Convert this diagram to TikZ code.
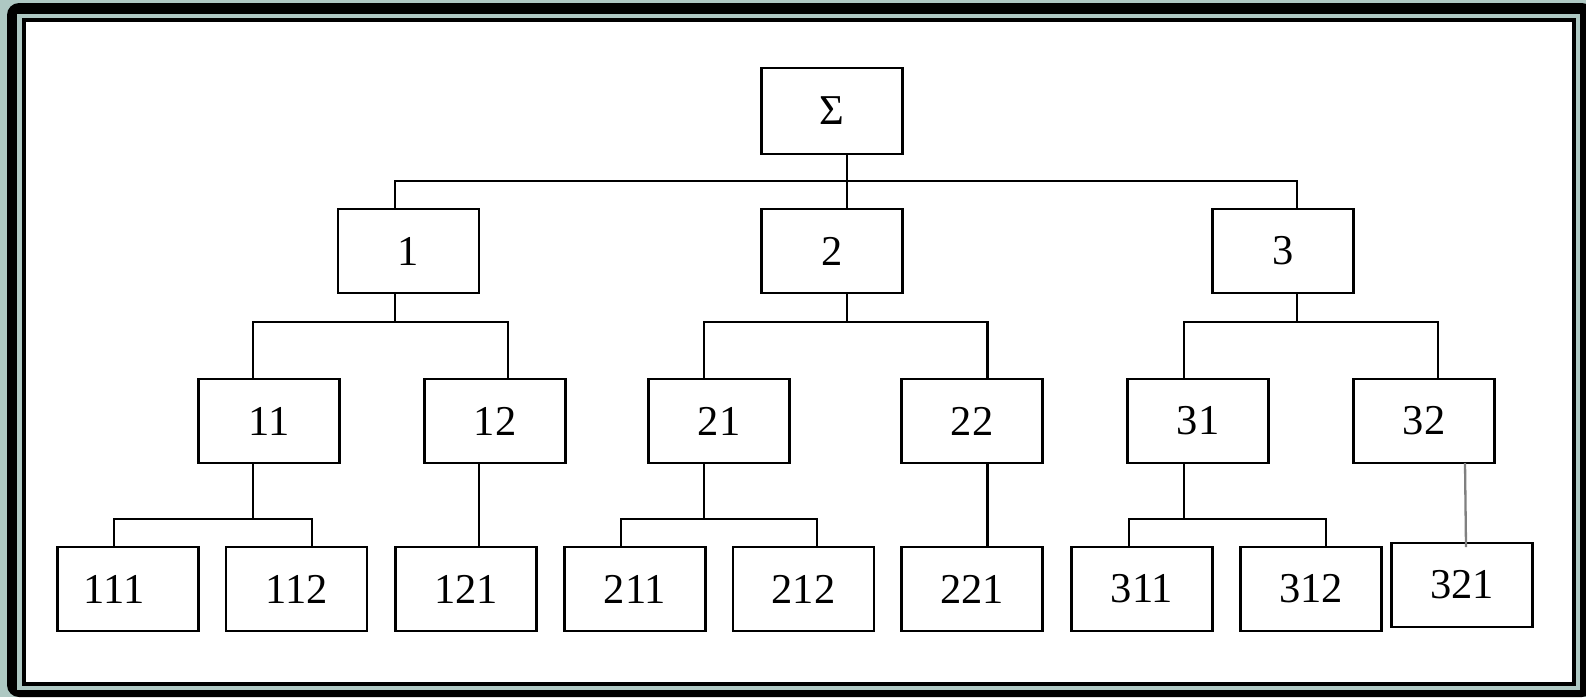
\documentclass[tikz,border=0pt]{standalone}
\usepackage{fontspec}
\setmainfont{Liberation Serif}
\definecolor{framegray}{HTML}{AEC8C3}
\tikzset{
  box/.style={draw,line width=2.3pt,fill=white,minimum width=141pt,minimum height=84pt,inner sep=0pt,outer sep=0pt,font=\fontsize{42.5}{42.5}\selectfont},
  link/.style={line width=2.3pt},
}
\begin{document}
\begin{tikzpicture}[x=1pt,y=-1pt]
\useasboundingbox (0,0) rectangle (1586,697);
% frame
\fill[framegray] (0,0) rectangle (1586,697);
\fill[rounded corners=12pt] (7,3) rectangle (1594,697);
\fill[framegray] (17,14) rectangle (1580,690);
\fill (22,18) rectangle (1576,686);
\fill[white] (26,22) rectangle (1572,682);
% levels
\node[box,minimum height=86pt] (s) at (832,111) {Σ};
\node[box] (n1) at (408.5,251) {1};
\node[box] (n2) at (832,251) {2};
\node[box] (n3) at (1283,251) {3};
\node[box] (n11) at (269,421) {11};
\node[box] (n12) at (495,421) {12};
\node[box] (n21) at (719,421) {21};
\node[box] (n22) at (972,421) {22};
\node[box] (n31) at (1198,421) {31};
\node[box] (n32) at (1424,421) {32};
\node[box] (n111) at (128,589) {111\hspace*{28pt}};
\node[box] (n112) at (296.5,589) {112};
\node[box] (n121) at (466,589) {121};
\node[box] (n211) at (635,589) {211};
\node[box] (n212) at (803.5,589) {212};
\node[box] (n221) at (972,589) {221};
\node[box] (n311) at (1142,589) {311};
\node[box] (n312) at (1311,589) {312};
\node[box] (n321) at (1462,585) {321};
% first level
\draw[link] ([xshift=15]s.south) -- ([xshift=15]n2.north);
\draw[link] ([xshift=-13.5]n1.north) -- ++(0,-28) -| ([xshift=14]n3.north);
% second level
\draw[link] ([xshift=-13.5]n1.south) -- ++(0,29);
\draw[link] ([xshift=-16]n11.north) -- ++(0,-57) -| ([xshift=13]n12.north);
\draw[link] ([xshift=15]n2.south) -- ++(0,29);
\draw[link] ([xshift=-15]n21.north) -- ++(0,-57) -| ([xshift=15.5]n22.north);
\draw[link] ([xshift=14]n3.south) -- ++(0,29);
\draw[link] ([xshift=-14]n31.north) -- ++(0,-57) -| ([xshift=14]n32.north);
% third level
\draw[link] ([xshift=-16]n11.south) -- ++(0,56);
\draw[link] ([xshift=-14]n111.north) -- ++(0,-28) -| ([xshift=15.5]n112.north);
\draw[link] ([xshift=-16]n12.south) -- ([xshift=13]n121.north);
\draw[link] ([xshift=-15]n21.south) -- ++(0,56);
\draw[link] ([xshift=-14]n211.north) -- ++(0,-28) -| ([xshift=13.5]n212.north);
\draw[link] ([xshift=15.5]n22.south) -- ([xshift=15.5]n221.north);
\draw[link] ([xshift=-14]n31.south) -- ++(0,56);
\draw[link] ([xshift=-13]n311.north) -- ++(0,-28) -| ([xshift=15]n312.north);
\draw[link,gray] ([xshift=41]n32.south) -- ([xshift=4,yshift=-4]n321.north);
\end{tikzpicture}
\end{document}
